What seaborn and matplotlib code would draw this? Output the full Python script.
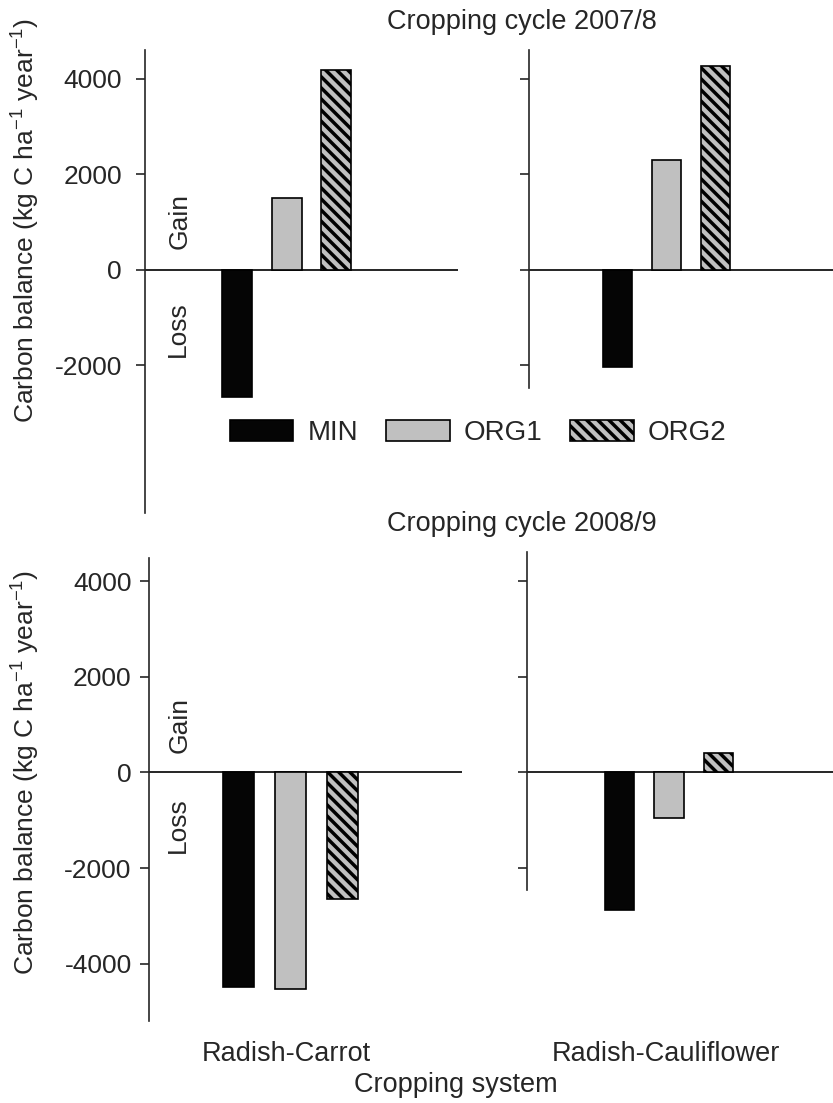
import matplotlib
matplotlib.use("Agg")
import matplotlib.pyplot as plt
from matplotlib.patches import Patch
import seaborn as sns

# ====================== DATA ======================
treatments = ["MIN", "ORG1", "ORG2"]
systems = ["Radish-Carrot", "Radish-Cauliflower"]
cycles = ["Cropping cycle 2007/8", "Cropping cycle 2008/9"]

carrot_2007 = [-2670, 1500, 4190]
cauli_2007 = [-2040, 2290, 4270]
carrot_2008 = [-4490, -4530, -2640]
cauli_2008 = [-2870, -945, 400]

bar_colors = ["#050505", "#c0c0c0", "#c0c0c0"]
bar_hatches = ["", "", "\\\\\\"]

# ====================== STYLE ======================
sns.set_style("ticks")
plt.rcParams["font.family"] = ["Liberation Sans", "DejaVu Sans"]
plt.rcParams["mathtext.fontset"] = "custom"
plt.rcParams["mathtext.rm"] = "Liberation Sans"
plt.rcParams["mathtext.it"] = "Liberation Sans"
plt.rcParams["axes.unicode_minus"] = False
plt.rcParams["hatch.linewidth"] = 2.5

W, H = 833, 1103
fig = plt.figure(figsize=(W / 100, H / 100), dpi=100)


def px_rect(x0, x1, y0, y1):
    # pixel box (top-left origin) -> figure fraction rect
    return [x0 / W, 1 - y1 / H, (x1 - x0) / W, (y1 - y0) / H]


def draw_panel(rect, values, ylim, yticks, xlim, spine_bounds, show_labels, pad=6):
    ax = fig.add_axes(rect)
    sns.barplot(x=treatments, y=values, hue=treatments, palette=bar_colors,
                width=0.6, edgecolor="black", linewidth=1.2, saturation=1,
                legend=False, ax=ax)
    for patch, h in zip(ax.patches, bar_hatches):
        if h:
            patch.set_hatch(h)
    ax.axhline(0, color="black", lw=1.2, zorder=0)
    ax.set_ylim(*ylim)
    ax.set_xlim(*xlim)
    ax.set_yticks(yticks)
    if show_labels:
        ax.set_yticklabels([str(t) for t in yticks])
    else:
        ax.set_yticklabels([])
    ax.set_xticks([])
    ax.set_xlabel("")
    ax.set_ylabel("")
    for s in ["top", "right", "bottom"]:
        ax.spines[s].set_visible(False)
    ax.spines["left"].set_linewidth(1.2)
    ax.spines["left"].set_bounds(*spine_bounds)
    ax.tick_params(axis="y", length=6.5, width=1.2, labelsize=19, pad=pad,
                   direction="out")
    ax.patch.set_alpha(0)
    return ax


# top panel (2007/8)
draw_panel(px_rect(145, 458, 50, 513), carrot_2007, (-5100, 4600),
           [-2000, 0, 2000, 4000], (-1.86, 4.46), (-5100, 4600), True, pad=10)
draw_panel(px_rect(529, 833, 50, 513), cauli_2007, (-5100, 4600),
           [-2000, 0, 2000, 4000], (-1.81, 4.41), (-2480, 4600), False)

# bottom panel (2008/9)
draw_panel(px_rect(149, 462, 552, 1021), carrot_2008, (-5200, 4610),
           [-4000, -2000, 0, 2000, 4000], (-1.72, 4.30), (-5200, 4490), True, pad=6)
draw_panel(px_rect(527, 833, 552, 1021), cauli_2008, (-5200, 4610),
           [-2000, 0, 2000, 4000], (-1.87, 4.31), (-2460, 4610), False)

# ====================== TEXT ======================
def ftext(x, y, s, **kw):
    fig.text(x / W, 1 - y / H, s, ha="center", va="center", **kw)


ylab = r"Carbon balance (kg C ha$^{-1}$ year$^{-1}$)"
ftext(522, 22, cycles[0], fontsize=19.5)
ftext(522, 524, cycles[1], fontsize=19.5)
ftext(26, 220, ylab, fontsize=19, rotation=90)
ftext(26, 772, ylab, fontsize=19, rotation=90)

for yc_gain, yc_loss in [(221, 329), (725, 825)]:
    ftext(180, yc_gain, "Gain", fontsize=19, rotation=90)
    ftext(178, yc_loss, "Loss", fontsize=19, rotation=90)

ftext(286, 1054, systems[0], fontsize=19.5)
ftext(666, 1054, systems[1], fontsize=19.5)
ftext(456, 1085, "Cropping system", fontsize=19.5)

# ====================== LEGEND ======================
handles = [Patch(facecolor=c, edgecolor="black", hatch=h, linewidth=1.2)
           for c, h in zip(bar_colors, bar_hatches)]
fig.legend(handles, treatments, loc="center", ncol=3, frameon=False,
           bbox_to_anchor=(478 / W, 1 - 433 / H), fontsize=20,
           handlelength=2.3, handleheight=0.8, handletextpad=0.5,
           columnspacing=1.0)

fig.savefig("out.png", dpi=100, facecolor="white")
